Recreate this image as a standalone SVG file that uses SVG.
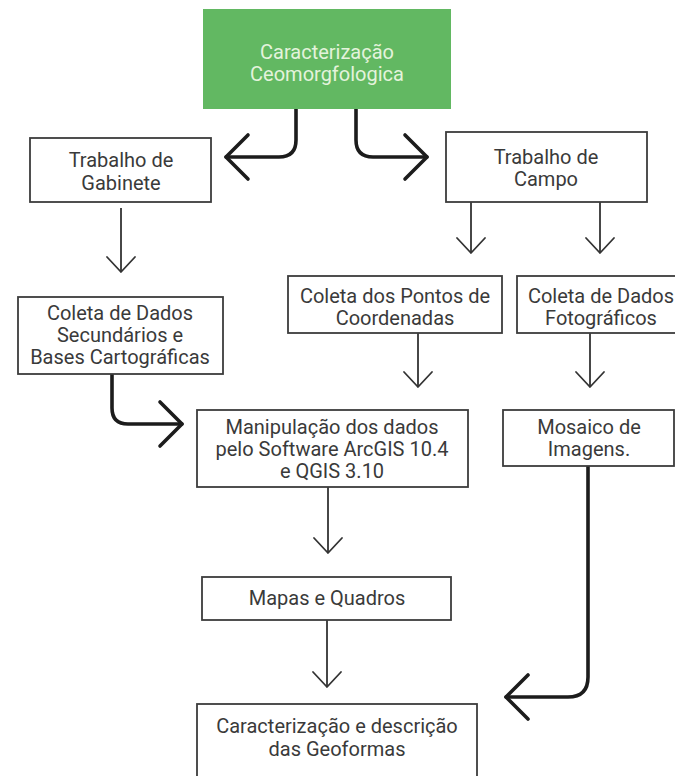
<svg xmlns="http://www.w3.org/2000/svg" width="675" height="776" viewBox="0 0 675 776">
<style>
.box{fill:#ffffff;stroke:#3c3c3c;stroke-width:1.8}
.green{fill:#62b862;stroke:none}
.t{font-family:Roboto,"Liberation Sans",sans-serif;font-size:20px;fill:#3a3a3a;text-anchor:middle}
.tw{font-family:Roboto,"Liberation Sans",sans-serif;font-size:20px;fill:#e4f3dc;text-anchor:middle}
.thin{fill:none;stroke:#333333;stroke-width:1.8;marker-end:url(#ah)}
.thick{fill:none;stroke:#1c1c1c;stroke-width:3.6;stroke-linecap:round;marker-end:url(#ahb)}
</style>
<defs>
<marker id="ah" markerUnits="userSpaceOnUse" viewBox="-30 -30 60 60" markerWidth="60" markerHeight="60" refX="0" refY="0" orient="auto" overflow="visible">
<path d="M-15,-14 L0,0 L-15,14" fill="none" stroke="#333333" stroke-width="1.8" stroke-linejoin="round" stroke-linecap="round"/>
</marker>
<marker id="ahb" markerUnits="userSpaceOnUse" viewBox="-30 -30 60 60" markerWidth="60" markerHeight="60" refX="0" refY="0" orient="auto" overflow="visible">
<path d="M-22,-22 L0,0 L-22,22" fill="none" stroke="#1c1c1c" stroke-width="3.6" stroke-linejoin="round" stroke-linecap="round"/>
</marker>
</defs>
<rect width="675" height="776" fill="#ffffff"/>
<g id="connectors">
<path class="thick" d="M296,108 V140 Q296,157 279,157 H226"/>
<path class="thick" d="M356,108 V140 Q356,157 373,157 H427"/>
<path class="thin" d="M121,208 V272"/>
<path class="thin" d="M471,202 V253"/>
<path class="thin" d="M600,202 V253"/>
<path class="thin" d="M418,333 V387"/>
<path class="thin" d="M590,333 V387"/>
<path class="thick" d="M112,374 V408 Q112,424 128,424 H182"/>
<path class="thin" d="M328,487 V553"/>
<path class="thin" d="M327,620 V687"/>
<path class="thick" d="M588,466 V677 Q588,697 568,697 H506"/>
</g>
<g id="n-caracterizacao-geo">
<rect class="green" x="203" y="9" width="248" height="100"/>
<text class="tw" x="327" y="59">Caracterização</text>
<text class="tw" x="327" y="81">Ceomorgfologica</text>
</g>
<g id="n-gabinete">
<rect class="box" x="30" y="138" width="181" height="64"/>
<text class="t" x="121" y="167">Trabalho de</text>
<text class="t" x="121" y="190">Gabinete</text>
</g>
<g id="n-campo">
<rect class="box" x="446" y="132" width="201" height="70"/>
<text class="t" x="546" y="164">Trabalho de</text>
<text class="t" x="546" y="186">Campo</text>
</g>
<g id="n-secundarios">
<rect class="box" x="18" y="297" width="205" height="77"/>
<text class="t" x="120" y="320">Coleta de Dados</text>
<text class="t" x="120" y="342">Secundários e</text>
<text class="t" x="120" y="364">Bases Cartográficas</text>
</g>
<g id="n-pontos">
<rect class="box" x="288" y="276" width="214" height="57"/>
<text class="t" x="395" y="303">Coleta dos Pontos de</text>
<text class="t" x="395" y="325">Coordenadas</text>
</g>
<g id="n-fotograficos">
<rect class="box" x="517" y="276" width="170" height="57"/>
<text class="t" x="601" y="303">Coleta de Dados</text>
<text class="t" x="601" y="325">Fotográficos</text>
</g>
<g id="n-manipulacao">
<rect class="box" x="197" y="410" width="271" height="77"/>
<text class="t" x="332" y="434">Manipulação dos dados</text>
<text class="t" x="332" y="456">pelo Software ArcGIS 10.4</text>
<text class="t" x="332" y="478">e QGIS 3.10</text>
</g>
<g id="n-mosaico">
<rect class="box" x="503" y="410" width="171" height="56"/>
<text class="t" x="589" y="434">Mosaico de</text>
<text class="t" x="589" y="456">Imagens.</text>
</g>
<g id="n-mapas">
<rect class="box" x="202" y="577" width="249" height="43"/>
<text class="t" x="327" y="605">Mapas e Quadros</text>
</g>
<g id="n-final">
<rect class="box" x="197" y="704" width="280" height="80"/>
<text class="t" x="337" y="733">Caracterização e descrição</text>
<text class="t" x="337" y="756">das Geoformas</text>
</g>
</svg>
